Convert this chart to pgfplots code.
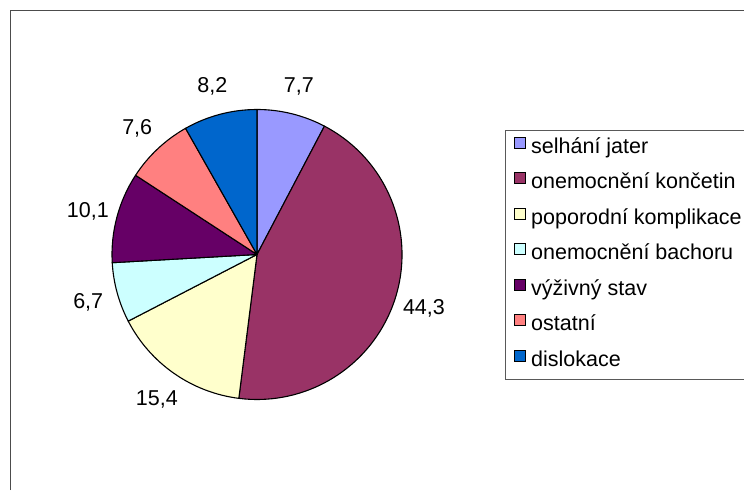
\documentclass[border=0pt]{standalone}
\usepackage{pgfplots}
\pgfplotsset{compat=1.18}
\usepackage{fontspec}
\setmainfont{Liberation Sans}
\definecolor{c1}{HTML}{9999FF}
\definecolor{c2}{HTML}{993366}
\definecolor{c3}{HTML}{FFFFCC}
\definecolor{c4}{HTML}{CCFFFF}
\definecolor{c5}{HTML}{660066}
\definecolor{c6}{HTML}{FF8080}
\definecolor{c7}{HTML}{0066CC}
\newcommand\lbl{\fontsize{21.5}{25}\selectfont}
\def\cx{257}\def\cy{235.5}\def\R{145}\def\Rl{175}
% #1 cumulative start (%), #2 value (%), #3 colour, #4 label
\newcommand\pieslice[4]{%
  \pgfmathsetmacro\sa{90-3.6*#1}%
  \pgfmathsetmacro\ea{90-3.6*(#1+#2)}%
  \pgfmathsetmacro\ma{90-3.6*(#1+#2/2)}%
  \pgfmathsetmacro\px{\cx+\R*cos(\sa)}%
  \pgfmathsetmacro\py{\cy+\R*sin(\sa)}%
  \pgfmathsetmacro\lx{\cx+\Rl*cos(\ma)}%
  \pgfmathsetmacro\ly{\cy+\Rl*sin(\ma)}%
  \edef\temp{\noexpand\fill[#3,draw=black,line width=1.1pt,line join=round] (axis cs:\cx,\cy) -- (axis cs:\px,\py) arc[start angle=\sa,end angle=\ea,radius=\R pt] -- cycle;
  \noexpand\node[anchor=center,inner sep=0pt,text height=15.4pt,text depth=0pt,font=\noexpand\lbl] at (axis cs:\lx,\ly) {#4};}%
  \temp
}
\begin{document}
\begin{tikzpicture}[x=1pt,y=1pt]
\useasboundingbox (0,0) rectangle (744,490);
\clip (0,0) rectangle (744,490);
\begin{axis}[
  at={(0,0)}, anchor=south west,
  scale only axis, width=744pt, height=490pt,
  xmin=0, xmax=744, ymin=0, ymax=490,
  hide axis, clip=false,
  legend image code/.code={\draw[#1,line width=0.8pt] (0pt,0pt) rectangle (11pt,11pt);},
  legend cell align=left,
  legend style={at={(505/744,360/490)}, anchor=north west,
    draw=black!65, line width=0.8pt, inner xsep=9pt, inner ysep=0pt,
    font=\lbl, row sep=0pt,
    nodes={inner xsep=5pt, inner ysep=0pt, text height=23pt, text depth=12.5pt}},
]
\draw[black!70,line width=1pt] (axis cs:10.5,0) -- (axis cs:10.5,479.5) -- (axis cs:760,479.5);
\pieslice{0}{7.7}{c1}{7,7}
\pieslice{7.7}{44.3}{c2}{44,3}
\pieslice{52.0}{15.4}{c3}{15,4}
\pieslice{67.4}{6.7}{c4}{6,7}
\pieslice{74.1}{10.1}{c5}{10,1}
\pieslice{84.2}{7.6}{c6}{7,6}
\pieslice{91.8}{8.2}{c7}{8,2}
\addlegendimage{fill=c1,draw=black}
\addlegendentry{selhání jater}
\addlegendimage{fill=c2,draw=black}
\addlegendentry{onemocnění končetin}
\addlegendimage{fill=c3,draw=black}
\addlegendentry{poporodní komplikace}
\addlegendimage{fill=c4,draw=black}
\addlegendentry{onemocnění bachoru}
\addlegendimage{fill=c5,draw=black}
\addlegendentry{výživný stav}
\addlegendimage{fill=c6,draw=black}
\addlegendentry{ostatní}
\addlegendimage{fill=c7,draw=black}
\addlegendentry{dislokace}
\end{axis}
\end{tikzpicture}
\end{document}
